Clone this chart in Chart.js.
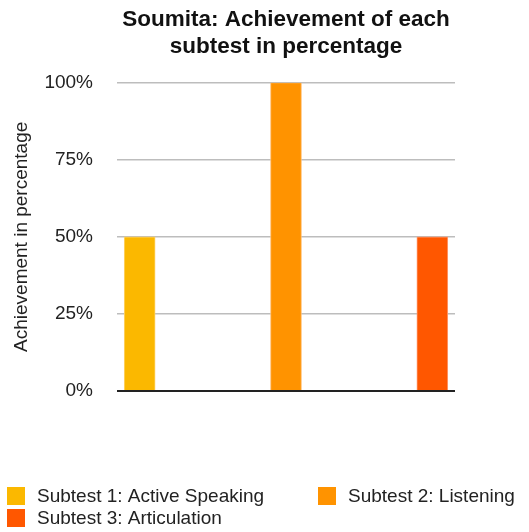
<!DOCTYPE html>
<html>
<head>
<meta charset="utf-8">
<script src="https://cdn.jsdelivr.net/npm/chart.js@4"></script>
<style>
  html, body { margin: 0; padding: 0; background: #fff; }
  #wrap { width: 529px; height: 532px; }
</style>
</head>
<body>
<div id="wrap"><canvas id="c" width="529" height="532"></canvas></div>
<script>
const titleLines = ['Soumita: Achievement of each', 'subtest in percentage'];
const yAxisTitle = 'Achievement in percentage';
const categories = ['Subtest 1: Active Speaking', 'Subtest 2: Listening', 'Subtest 3: Articulation'];
const values = [50, 100, 50];
const yTicks = [0, 25, 50, 75, 100];
const colors = ['#fbb800', '#ff9300', '#ff5700'];
const borderColors = ['#fdd36a', '#ffbd6e', '#ff9a70'];

const FONT = '"Liberation Sans", Arial, Helvetica, sans-serif';

const datasets = categories.map((name, i) => ({
  label: name,
  data: [{ x: i, y: values[i] }],
  backgroundColor: colors[i],
  borderColor: borderColors[i],
  borderWidth: 1,
  barThickness: 31,
  grouped: false
}));

const legendPlugin = {
  id: 'customLegend',
  afterDraw(chart) {
    const ctx = chart.ctx;
    const slots = [
      { bx: 7, by: 487, tx: 37 },
      { bx: 318, by: 487, tx: 348 },
      { bx: 7, by: 509, tx: 37 }
    ];
    ctx.save();
    ctx.font = '19px ' + FONT;
    ctx.textBaseline = 'middle';
    ctx.textAlign = 'left';
    chart.data.datasets.forEach((ds, i) => {
      const s = slots[i];
      ctx.fillStyle = ds.backgroundColor;
      ctx.fillRect(s.bx, s.by, 18, 18);
      ctx.fillStyle = '#222';
      ctx.fillText(ds.label, s.tx, s.by + 10);
    });
    ctx.restore();
  }
};

new Chart(document.getElementById('c'), {
  type: 'bar',
  data: { datasets },
  plugins: [legendPlugin],
  options: {
    responsive: false,
    animation: false,
    layout: { padding: { left: 0, right: 74, top: 0, bottom: 141 } },
    plugins: {
      legend: { display: false },
      tooltip: { enabled: false },
      title: {
        display: true,
        text: titleLines,
        fullSize: false,
        color: '#111',
        font: { family: FONT, size: 22.5, weight: 'bold', lineHeight: 1.17 },
        padding: { top: 7, bottom: 23 }
      }
    },
    scales: {
      x: {
        type: 'linear',
        display: false,
        offset: false,
        bounds: 'ticks',
        min: -0.155,
        max: 2.155
      },
      y: {
        min: 0,
        max: 100,
        afterFit(scale) { scale.width = 117; },
        afterBuildTicks(scale) { scale.ticks = yTicks.map(v => ({ value: v })); },
        border: { display: false },
        grid: {
          drawTicks: false,
          color: (c) => c.tick && c.tick.value === 0 ? '#222' : '#bdbdbd',
          lineWidth: (c) => c.tick && c.tick.value === 0 ? 2 : 1.5
        },
        ticks: {
          padding: 24,
          color: '#222',
          font: { family: FONT, size: 19 },
          callback: (v) => v + '%'
        },
        title: {
          display: true,
          text: yAxisTitle,
          color: '#222',
          font: { family: FONT, size: 19 },
          padding: { top: 10, bottom: 4 }
        }
      }
    }
  }
});
</script>
</body>
</html>
